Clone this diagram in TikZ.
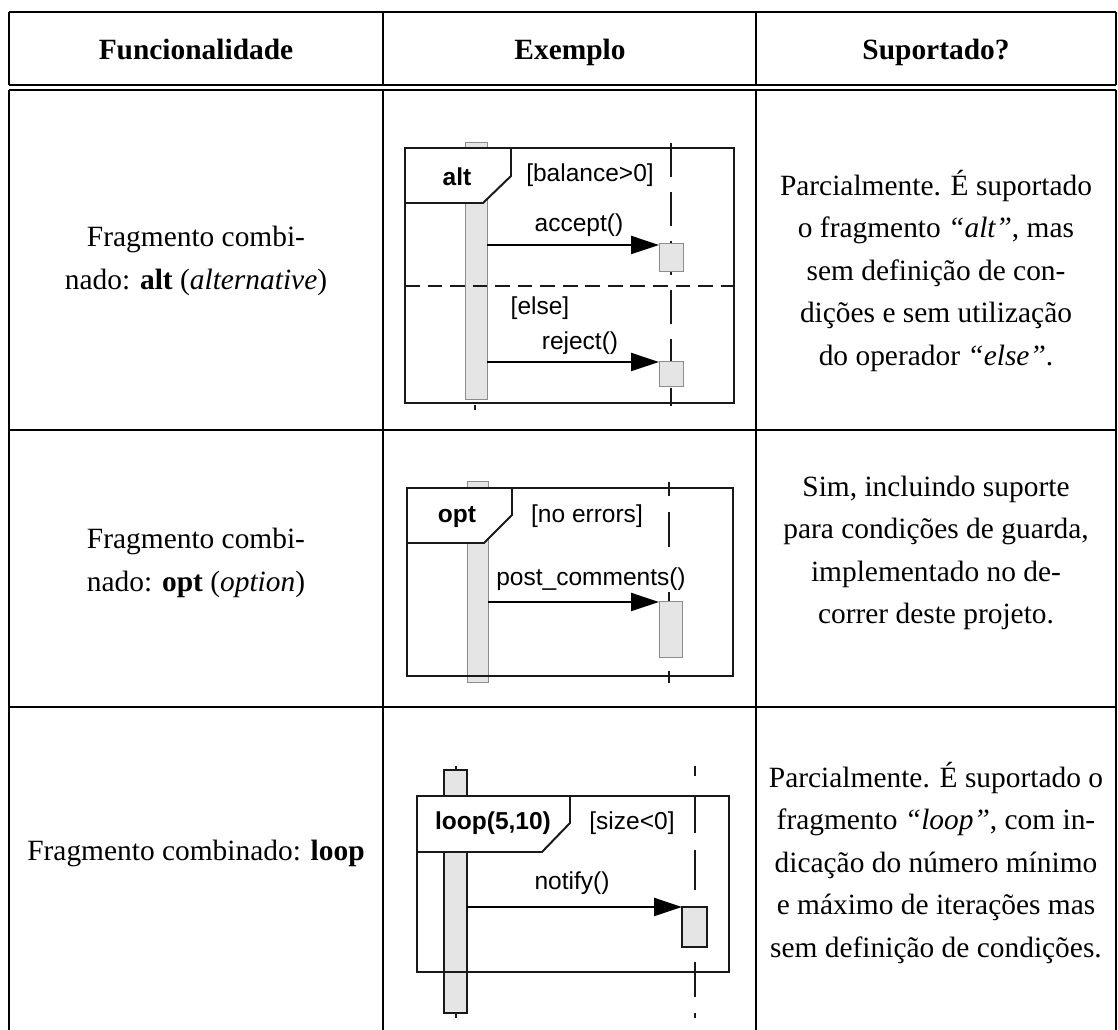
\documentclass[tikz,border=0pt]{standalone}
\usepackage{fontspec}
\setmainfont{Liberation Serif}
\newfontfamily\dfont{Liberation Sans}
\usetikzlibrary{arrows.meta}
\begin{document}
\begin{tikzpicture}[x=0.408pt,y=-0.408pt,
  rule/.style={line width=0.6pt,black},
  cell/.style={align=center,font=\fontsize{12}{17.34}\selectfont,inner sep=0pt},
  hdr/.style={font=\fontsize{12}{14}\selectfont\bfseries,inner sep=0pt,anchor=base},
  frame/.style={line width=0.8pt,black!90},
  actbar/.style={fill=black!10,draw=black!45,line width=0.4pt},
  actbarb/.style={fill=black!10,draw=black!90,line width=0.6pt},
  lifeline/.style={line width=0.8pt,black!90,dash pattern=on 14pt off 6pt},
  lifeseg/.style={line width=0.8pt,black!90},
  sep/.style={line width=0.8pt,black!90,dash pattern=on 6pt off 3.2pt},
  msg/.style={line width=0.7pt,black,-{Triangle[length=11.4pt,width=7.4pt]}},
  lbl/.style={font=\dfont\fontsize{10}{12}\selectfont,inner sep=0pt},
  blbl/.style={font=\dfont\bfseries\fontsize{10}{12}\selectfont,inner sep=0pt},
]
\useasboundingbox[fill=white] (0,0) rectangle (1118,1030);

% ---- table rules
\draw[rule] (9,12) -- (1116,12);
\draw[rule] (9,85) -- (1116,85);
\draw[rule] (9,90) -- (1116,90);
\draw[rule] (9,430) -- (1116,430);
\draw[rule] (9,707) -- (1116,707);
\foreach \x in {9,383,756,1116}{
  \draw[rule] (\x,12) -- (\x,85);
  \draw[rule] (\x,90) -- (\x,1030);
}

% ---- header
\node[hdr] (h1) at (196,60) {Funcionalidade};
\node[hdr] (h2) at (570,60) {Exemplo};
\node[hdr] (h3) at (936,60) {Suportado?};

% ---- column 1
\node[cell] (c11) at (196,261) {Fragmento combi-\\nado: \textbf{alt} (\textit{alternative})};
\node[cell] (c21) at (196,563) {Fragmento combi-\\nado: \textbf{opt} (\textit{option})};
\node[cell] (c31) at (196,853) {Fragmento combinado: \textbf{loop}};

% ---- column 3
\node[cell] (c13) at (936,271) {Parcialmente. É suportado\\o fragmento \textit{“alt”}, mas\\sem definição de con-\\dições e sem utilização\\do operador \textit{“else”}.};
\node[cell] (c23) at (936,553) {Sim, incluindo suporte\\para condições de guarda,\\implementado no de-\\correr deste projeto.};
\node[cell] (c33) at (936,863) {Parcialmente. É suportado o\\fragmento \textit{“loop”}, com in-\\dicação do número mínimo\\e máximo de iterações mas\\sem definição de condições.};

% ================= Example 1: alt
\draw[lifeline] (671,143) -- (671,406);
\draw[actbar] (465,143) rectangle (487,148);
\draw[actbar] (465,148) rectangle (487,400);
\draw[frame] (475,405) -- (475,410);
\filldraw[frame,fill=white] (405,148) -- (511,148) -- (511,176) -- (483,203) -- (405,203) -- cycle;
\draw[frame] (405,148) rectangle (734,403);
\draw[sep] (405,286) -- (734,286);
\draw[actbar] (659,244) rectangle (683,272);
\draw[actbar] (659,362) rectangle (683,387);
\coordinate (a1s) at (487,245);
\coordinate (a1e) at (659,245);
\coordinate (a2s) at (487,362);
\coordinate (a2e) at (659,362);
\draw[msg] (a1s) -- (a1e);
\draw[msg] (a2s) -- (a2e);
\node[blbl] (t1) at (457,177) {alt};
\node[lbl] (g1) at (590,175) {[balance>0]};
\node[lbl] (m1) at (579,225) {accept()};
\node[lbl] (g2) at (540,308) {[else]};
\node[lbl] (m2) at (580,343) {reject()};

% ================= Example 2: opt
\draw[lifeseg] (669,482) -- (669,496);
\draw[lifeseg] (669,512) -- (669,547);
\draw[lifeseg] (669,592) -- (669,602);
\draw[lifeseg] (669,671) -- (669,683);
\draw[actbar] (467,482) rectangle (488,683);
\filldraw[frame,fill=white] (407,488) -- (512,488) -- (512,515) -- (484,543) -- (407,543) -- cycle;
\draw[frame] (407,488) rectangle (733,676);
\draw[actbar] (659,602) rectangle (682,658);
\coordinate (b1s) at (488,602);
\coordinate (b1e) at (659,602);
\draw[msg] (b1s) -- (b1e);
\node[blbl] (t2) at (457,517) {opt};
\node[lbl] (g3) at (587,516) {[no errors]};
\node[lbl] (m3) at (591,579) {post\_comments()};

% ================= Example 3: loop
\draw[lifeseg] (695,766) -- (695,776);
\draw[lifeseg] (695,795) -- (695,833);
\draw[lifeseg] (695,850) -- (695,890);
\draw[lifeseg] (695,962) -- (695,997);
\draw[lifeseg] (695,1013) -- (695,1018);
\draw[frame] (456,766) -- (456,770);
\draw[frame] (456,1013) -- (456,1018);
\draw[actbarb] (444,770) rectangle (467,1013);
\filldraw[frame,fill=white] (417,796) -- (570,796) -- (570,823) -- (542,852) -- (417,852) -- cycle;
\draw[frame] (417,796) rectangle (729,972);
\draw[actbarb] (682,907) rectangle (707,947);
\coordinate (c1s) at (467,907);
\coordinate (c1e) at (682,907);
\draw[msg] (c1s) -- (c1e);
\node[blbl] (t3) at (493,823) {loop(5,10)};
\node[lbl] (g4) at (632,823) {[size<0]};
\node[lbl] (m4) at (572,883) {notify()};
\end{tikzpicture}
\end{document}
